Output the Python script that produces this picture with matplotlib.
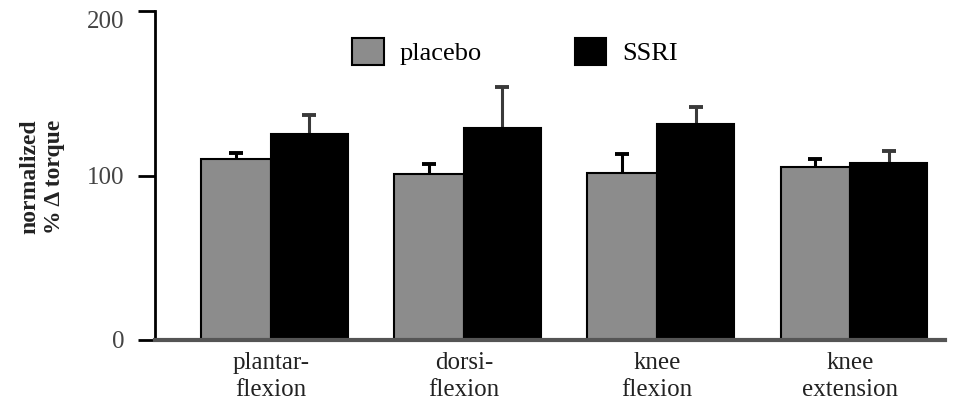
import matplotlib
matplotlib.use("Agg")
import matplotlib.pyplot as plt
import numpy as np
from matplotlib.patches import Patch

categories = ["plantar-\nflexion", "dorsi-\nflexion", "knee\nflexion", "knee\nextension"]
placebo = [110, 101, 101.5, 105]
placebo_err = [3.5, 6, 11.5, 5]
ssri = [125.5, 129, 131.5, 107.5]
ssri_err = [11, 25, 10, 7.5]
yticks = [0, 100, 200]

plt.rcParams['font.family'] = ['Liberation Serif', 'DejaVu Serif']

fig = plt.figure(figsize=(9.59, 4.08), dpi=100)
ax = fig.add_axes([0.1616, 0.1667, 0.985 - 0.1616, 0.973 - 0.1667])

x = np.arange(len(categories))
wp, ws = 0.36, 0.40
xp = x - wp/2
xs = x + ws/2
ax.bar(xp, placebo, wp, color="#8c8c8c", edgecolor="black", linewidth=1.5, zorder=2)
ax.bar(xs, ssri, ws, color="black", edgecolor="black", linewidth=1.5, zorder=2)

for xx, v, e, c in [(xp, placebo, placebo_err, "black"), (xs, ssri, ssri_err, "#3a3a3a")]:
    v = np.array(v); e = np.array(e)
    ax.errorbar(xx, v, yerr=[np.zeros_like(e), e], fmt="none", ecolor=c,
                elinewidth=2.2, capsize=0, zorder=1)
    ax.scatter(xx, v + e, marker="_", s=110, linewidths=2.8, color=c, zorder=1)

ax.set_xlim(-0.6, 3.49)
ax.set_ylim(0, 200)
ax.set_yticks(yticks)
ax.set_yticklabels([str(t) for t in yticks], fontsize=18, color="#444444")
# top label sits a little below its tick in the reference
ax.yaxis.get_major_ticks()[-1].label1.set_verticalalignment("top")
ax.set_xticks(x)
ax.set_xticklabels(categories, fontsize=18, color="#222222", linespacing=1.25)
ax.tick_params(axis='x', length=0, pad=9)
ax.tick_params(axis='y', direction='out', length=12, width=2, pad=10)

for s in ["top", "right"]:
    ax.spines[s].set_visible(False)
ax.spines["left"].set_linewidth(2)
ax.spines["bottom"].set_linewidth(3)
ax.spines["bottom"].set_color("#555555")
ax.spines["bottom"].set_zorder(3)

fig.text(0.044, 0.566, "normalized\n% Δ torque", rotation=90, ha="center", va="center",
         fontsize=17, fontweight="bold", linespacing=1.2, color="#222222")

handles = [Patch(facecolor="#8c8c8c", edgecolor="black", linewidth=1.5),
           Patch(facecolor="black", edgecolor="black", linewidth=1.5)]
ax.legend(handles, ["placebo", "SSRI"], ncol=2, loc="upper left",
          bbox_to_anchor=(0.22, 0.99), frameon=False, fontsize=19,
          handlelength=1.2, handleheight=1.2, columnspacing=3.5, handletextpad=0.6)

fig.savefig("out.png", dpi=100)
